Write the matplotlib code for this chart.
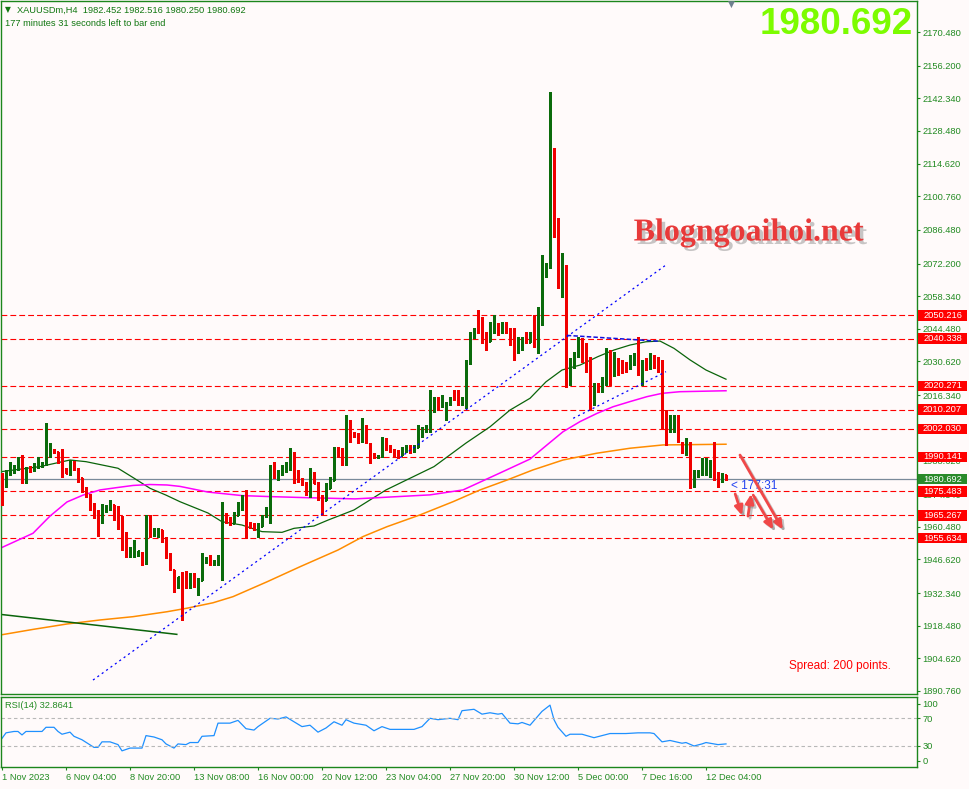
import matplotlib
matplotlib.use("Agg")
import matplotlib.pyplot as plt
import matplotlib.patheffects as pe
import matplotlib.transforms as mtransforms
from matplotlib.patches import Rectangle
import numpy as np

plt.rcParams['font.family'] = ['Liberation Sans', 'DejaVu Sans']
plt.rcParams['lines.scale_dashes'] = False

W, H = 969, 789
BG = "#FFFAFA"
FRAME = "#1C861C"
TXT = "#228B22"
UP = "#0B6B0B"
DOWN = "#F00000"

# XAUUSDm H4 bars (open, high, low, close)
opens = [1982, 1978, 1983, 1985, 1985.5, 1988, 1980, 1986, 1984.5, 1986,
         1987, 1987.5, 1992, 1993, 1992, 1988, 1985, 1983.5, 1987, 1985,
         1981, 1977, 1974, 1969, 1965, 1963, 1967, 1968, 1969.5, 1968,
         1964, 1957, 1949.5, 1950, 1949, 1949.5, 1947, 1964.5, 1957, 1957.5,
         1959, 1955, 1948, 1942, 1935, 1939, 1940, 1936, 1940, 1936,
         1938, 1946, 1947.5, 1945, 1945, 1946, 1964, 1963, 1962, 1965.5,
         1969, 1974, 1962, 1961, 1959, 1961, 1965, 1967, 1985, 1982,
         1983, 1985.5, 1987, 1991, 1984, 1980.5, 1979, 1975, 1983, 1979,
         1973, 1972, 1977, 1980.5, 1993, 1992, 1988, 2004, 2000, 1999,
         1997, 2003, 1995.5, 1991, 1990, 1990.5, 1997, 1994, 1993, 1991.5,
         1991, 1993, 1994.5, 1992.5, 1994.5, 2001, 2001.5, 2003, 2014, 2015,
         2012, 2012, 2013, 2017, 2016, 2013, 2014, 2030, 2041, 2046,
         2047, 2042, 2039.5, 2043, 2046, 2043, 2046, 2043, 2040, 2036,
         2037, 2041, 2039, 2043, 2038, 2050, 2067, 2071, 2118, 2086,
         2064, 2071, 2023, 2030, 2034, 2038, 2033, 2028, 2014, 2020,
         2018, 2022, 2033, 2025, 2031, 2030, 2030, 2028, 2031, 2033,
         2025, 2030, 2028, 2032, 2031, 2030, 2005, 2001, 2004, 2007,
         1996, 1992, 1996, 1979, 1983, 1984, 1986, 1985, 1988, 1982, 1980, 1982.452]
highs = [1983.5, 1984.6, 1988.1, 1986.7, 1990.2, 1990.9, 1986, 1986.3, 1987.4, 1990.2,
         1988, 2004.4, 1995.9, 1993.3, 1992.3, 1993.3, 1985.3, 1988.8, 1988.2, 1985.3,
         1981.3, 1977.2, 1974.3, 1970.4, 1967.6, 1970, 1969.7, 1971.8, 1969.8, 1969.3,
         1965, 1958.4, 1952, 1954.8, 1950.3, 1949.8, 1965.5, 1965.5, 1959.8, 1959.8,
         1959.1, 1956.3, 1949.2, 1942.3, 1939.3, 1941.4, 1941.8, 1940.7, 1940.7, 1938.6,
         1949.2, 1947.8, 1948.5, 1946.4, 1948.5, 1971.1, 1966.2, 1964.8, 1966.9, 1971.1,
         1974, 1976.1, 1962.6, 1961.9, 1961.9, 1965.5, 1969, 1986.7, 1988.1, 1984.6,
         1986.7, 1988.1, 1993.8, 1992.4, 1984.6, 1981, 1979.3, 1985.3, 1983.9, 1979.6,
         1974, 1978.9, 1981.7, 1994.5, 1994.5, 1993.8, 2007.9, 2005.8, 2000.8, 2000.1,
         2006.5, 2003.7, 1995.9, 1991.6, 1991, 1998.7, 1998, 1995.2, 1993.3, 1993,
         1994.5, 1995.2, 1995.2, 1995.2, 2003.7, 2003, 2003.7, 2018.5, 2015.7, 2015.7,
         2016.4, 2013.6, 2015.7, 2018.5, 2018.5, 2015.7, 2031.3, 2043.3, 2044.7, 2052.5,
         2049.7, 2043.3, 2047.5, 2050.4, 2046.8, 2047.5, 2047.5, 2044.7, 2044.7, 2041.2,
         2041.2, 2043.3, 2043.3, 2050.4, 2053.9, 2075.8, 2072.3, 2145.2, 2121.1, 2091.4,
         2076.5, 2071.6, 2032, 2034.8, 2041.1, 2040.4, 2038.3, 2032.6, 2021.3, 2021.3,
         2024.2, 2036.2, 2035.5, 2034.8, 2032, 2031.3, 2030.5, 2033.4, 2034.1, 2041.1,
         2031.3, 2032, 2034.1, 2033.4, 2032.6, 2031.2, 2010, 2007.9, 2007.9, 2007.9,
         1996.6, 1998, 1996.3, 1984.5, 1984.5, 1989.5, 1989.5, 1988.8, 1996.6, 1983.9, 1983.1, 1982.516]
lows = [1969.7, 1977.2, 1982.4, 1983.1, 1984.6, 1978.9, 1978.9, 1983.9, 1984.2, 1985.3,
        1985.8, 1986.7, 1990.2, 1991.6, 1987.7, 1981.7, 1983.1, 1982.4, 1984.5, 1979.6,
        1975.4, 1973, 1967.6, 1964, 1956.5, 1961.9, 1966.9, 1967.6, 1963.3, 1959.4,
        1950.6, 1947.8, 1947.8, 1947.8, 1948, 1944.2, 1944.6, 1956.3, 1956.5, 1956.3,
        1954.1, 1947, 1942.1, 1932.9, 1934.3, 1920.9, 1934.3, 1934.3, 1935, 1931.5,
        1937.9, 1945, 1944.2, 1944.2, 1944.2, 1937.9, 1961.9, 1961.2, 1961.9, 1965.3,
        1967.6, 1955.6, 1959.8, 1959.1, 1956.3, 1960.8, 1964.8, 1961.9, 1981, 1980.3,
        1982.4, 1983.9, 1984.6, 1978.9, 1979.6, 1978.2, 1974, 1973.2, 1978.9, 1971.8,
        1965.5, 1971.8, 1976.8, 1980.3, 1990.2, 1986.7, 1986.7, 1996.6, 1998.7, 1995.9,
        1996.6, 1995.9, 1987.4, 1989.5, 1989.8, 1990.2, 1993, 1992.4, 1990.2, 1989.5,
        1990.8, 1992.4, 1991.8, 1992.3, 1994.3, 1998.7, 2000.8, 2000.8, 2009.3, 2010,
        2011.5, 2005.8, 2012.2, 2014.3, 2012.2, 2012.2, 2010.7, 2029.5, 2040.5, 2042.6,
        2038.3, 2035.5, 2039.2, 2042.6, 2041.9, 2042.6, 2042.6, 2037.6, 2031.3, 2034.1,
        2035.5, 2038.3, 2038.8, 2036.9, 2034.1, 2046.1, 2066.5, 2070.5, 2083.6, 2061.7,
        2058.1, 2019.9, 2020.6, 2027.7, 2032.7, 2030.5, 2026.3, 2010, 2012.1, 2017.8,
        2017.5, 2020.6, 2020.6, 2024.5, 2024.9, 2025.6, 2026.3, 2027.5, 2029.1, 2024.9,
        2020.6, 2027, 2027.6, 2027.7, 2026.3, 2002.2, 1995.2, 2000.8, 2000.8, 1996.6,
        1991.6, 1990.9, 1976.8, 1977.5, 1981.7, 1982.4, 1982.4, 1981.7, 1980.3, 1977.5, 1979.6, 1980.25]
closes = [1978, 1984, 1986, 1986, 1987, 1981, 1985, 1984.5, 1986, 1987.5,
          1987.5, 1992, 1993, 1992, 1988, 1984, 1983.5, 1988, 1985, 1981,
          1977, 1974, 1969, 1965, 1963, 1968, 1969, 1969.5, 1966, 1964,
          1956, 1950, 1951, 1953, 1950, 1948, 1964, 1960, 1959.5, 1959,
          1955, 1948, 1944, 1935, 1939, 1936, 1936, 1940, 1937, 1938,
          1947, 1947, 1945, 1946, 1946.5, 1962.5, 1962.5, 1962, 1965, 1970,
          1973, 1962, 1960.5, 1959.5, 1961, 1964, 1968, 1985, 1983, 1984,
          1985.5, 1987, 1990, 1983.5, 1980.5, 1979, 1975, 1982, 1979, 1973,
          1970, 1977, 1980, 1993, 1991, 1988, 2003, 1999, 1999, 1997,
          2003, 1998, 1990, 1990, 1990.5, 1997, 1994, 1993, 1991, 1990,
          1993, 1994, 1992, 1994.5, 2001, 2002, 2003, 2015, 2015, 2012,
          2013, 2013, 2015, 2015, 2013, 2014, 2030, 2041, 2043, 2043,
          2042, 2039, 2045, 2047, 2043, 2046, 2043, 2039, 2037, 2039,
          2040, 2039, 2041, 2038, 2050, 2067, 2071, 2118, 2086, 2064,
          2071, 2026, 2031, 2034, 2038, 2033, 2028, 2014, 2019, 2018,
          2022, 2033, 2024, 2031, 2026, 2026, 2028, 2032, 2033, 2028,
          2030, 2028, 2032, 2029, 2028, 2005, 1998, 2006, 2007, 1998,
          1992, 1997, 1979, 1983, 1984, 1988, 1988, 1988, 1982, 1979, 1982.5, 1980.692]

# moving averages, read at selected bars
ma_green_idx = [-0.5, 9.5, 17, 21, 29, 33, 37, 41, 44.5, 51.5, 55, 60, 65, 70, 73, 78, 81.5, 88,
                96, 108, 116, 122, 127, 132, 136, 140, 144.5, 149, 153, 157, 161, 164.5, 168, 172, 176, 181]
ma_green_val = [1983.8, 1986.0, 1988.8, 1988.1, 1985.3, 1981.1, 1976.8, 1973.9, 1971.1, 1966.3,
                1962.6, 1961.2, 1958.4, 1958.1, 1959.8, 1960.8, 1963.3, 1967.6, 1976.1, 1986.0,
                1996.0, 2002.9, 2010.0, 2015.0, 2022.0, 2027.0, 2029.1, 2032.7, 2035.5, 2037.6,
                2039.0, 2039.3, 2036.2, 2031.3, 2027.0, 2023.1]
ma_magenta_idx = [-0.5, 7.75, 12, 16.25, 20.25, 24.5, 28.75, 32.75, 37, 41.25, 44.5, 51.5, 60, 66.5,
                  76.5, 88.25, 107, 115.25, 124.5, 132, 136.25, 140.25, 144.5, 148.75, 152.75, 157,
                  161.25, 165, 169.5, 181]
ma_magenta_val = [1951.3, 1957.7, 1965.0, 1971.0, 1973.9, 1976.1, 1977.1, 1978.0, 1978.4, 1978.2,
                  1977.6, 1975.2, 1973.7, 1973.3, 1972.8, 1972.3, 1974.0, 1976.1, 1983.3, 1989.2,
                  1995.2, 2000.8, 2005.1, 2008.6, 2011.4, 2013.6, 2015.7, 2017.1, 2017.8, 2018.2]
ma_orange_idx = [-0.5, 7.75, 16.25, 24.5, 32.75, 41.25, 46.25, 52.75, 57.75, 66.25, 74.5, 84, 90.25,
                 96.25, 104.5, 112.75, 119.5, 126.25, 132.75, 140.25, 148.75, 157, 165.25, 181]
ma_orange_val = [1914.5, 1916.9, 1919.2, 1920.9, 1922.3, 1924.4, 1925.9, 1928.2, 1930.8, 1937.1,
                 1943.5, 1950.6, 1956.3, 1960.5, 1965.5, 1971.1, 1976.1, 1980.3, 1984.6, 1988.8,
                 1991.7, 1993.8, 1995.2, 1995.5]

# RSI(14), read at selected bars
rsi_idx = [0, 1, 3, 4, 5, 6, 10, 11, 13, 14, 15, 17, 18, 20, 23, 24, 25, 27, 29, 30,
           32, 35, 36, 38, 40, 41, 43, 44, 46, 47, 49, 50, 53, 54, 57, 59, 61, 63, 64, 67,
           69, 71, 73, 75, 77, 79, 81, 83, 85, 86, 88, 91, 93, 95, 97, 100, 103, 105, 107, 109,
           112, 114, 115, 118, 120, 122, 124, 125, 127, 129, 130, 132, 135, 137, 138, 139, 141, 142, 145, 148,
           150, 152, 154, 156, 159, 162, 163, 165, 167, 170, 171, 173, 175, 176, 179, 181]
rsi_val = [41, 49, 51, 51, 46, 51, 51, 57, 57, 51, 47, 50, 44, 39, 28, 28, 36, 36, 32, 23,
           27, 27, 45, 43, 39, 33, 27, 33, 32, 35, 35, 44, 45, 63, 63, 67, 55, 53, 58, 70,
           69, 72, 65, 58, 60, 50, 56, 65, 60, 68, 63, 60, 52, 58, 54, 54, 54, 58, 70, 68,
           70, 68, 81, 83, 76, 78, 76, 77, 63, 62, 64, 60, 80, 89, 68, 57, 44, 47, 47, 42,
           45, 48, 48, 48, 49, 49, 48, 36, 38, 34, 35, 30, 33, 35, 32, 33]

# horizontal levels and labels
levels = [2050.216, 2040.338, 2020.271, 2010.207, 2002.030, 1990.141, 1975.483, 1965.267, 1955.634]
last_price = 1980.692
price_ticks = [2170.480, 2156.200, 2142.340, 2128.480, 2114.620, 2100.760, 2086.480, 2072.200,
               2058.340, 2044.480, 2030.620, 2016.340, 2002.480, 1988.620, 1974.340, 1960.480,
               1946.620, 1932.340, 1918.480, 1904.620, 1890.760]
date_ticks = [0, 16, 32, 48, 64, 80, 96, 112, 128, 144, 160, 176]
date_labels = ["1 Nov 2023", "6 Nov 04:00", "8 Nov 20:00", "13 Nov 08:00", "16 Nov 00:00",
               "20 Nov 12:00", "23 Nov 04:00", "27 Nov 20:00", "30 Nov 12:00", "5 Dec 00:00",
               "7 Dec 16:00", "12 Dec 04:00"]

# trendlines (bar index, price)
trend_main = ([22.75, 166], [1895.4, 2071.6])
trend_low = ([142.8, 166], [2006.5, 2026.3])
trend_flat = ([141.2, 164.5], [2041.7, 2039.2])
trend_old = ([-0.5, 43.7], [1923.3, 1914.8])


def frect(x0, y0, x1, y1):
    return [x0 / W, 1 - y1 / H, (x1 - x0) / W, (y1 - y0) / H]


fig = plt.figure(figsize=(W / 100, H / 100), dpi=100, facecolor=BG)

# ---- main price panel
ax = fig.add_axes(frect(1, 1, 917, 694), facecolor=BG)
ax.set_xlim(-0.25, 228.75)
ax.set_ylim(1889.48, 2183.64)
for s in ax.spines.values():
    s.set_color(FRAME)
    s.set_linewidth(1.0)
ax.set_xticks([])
ax.yaxis.tick_right()
ax.set_yticks(price_ticks)
ax.set_yticklabels([f"{v:.3f}" for v in price_ticks])
ax.tick_params(axis='y', direction='out', length=2.5, width=0.8, color=FRAME,
               labelcolor=TXT, labelsize=6.7, pad=1.5)

# level lines
ax.hlines(levels, -0.25, 228.75, colors="#FF0000", linestyles=(0, (4.2, 2.2)), lw=0.8, zorder=1)
ax.axhline(last_price, color="#7A8A9A", lw=0.9, zorder=1)

# moving averages
ax.plot(ma_green_idx, ma_green_val, color="#0A640A", lw=0.9, zorder=2)
ax.plot(ma_magenta_idx, ma_magenta_val, color="#FF00FF", lw=1.1, zorder=2)
ax.plot(ma_orange_idx, ma_orange_val, color="#FF8C00", lw=1.1, zorder=2)
ax.plot(*trend_old, color="#0A640A", lw=1.1, zorder=2)

# OHLC bars
o = np.array(opens)
c = np.array(closes)
idx = np.arange(len(c))
cols = np.where(c >= o, UP, DOWN)
ax.vlines(idx, lows, highs, colors=cols, lw=0.75, zorder=3, antialiased=False)
ax.hlines(o, idx - 0.27, idx, colors=cols, lw=0.75, zorder=3, antialiased=False)
ax.hlines(c, idx, idx + 0.27, colors=cols, lw=0.75, zorder=3, antialiased=False)

# trendlines
ax.plot(*trend_main, color="#0000FF", lw=0.9, linestyle=(0, (1.5, 2.4)), zorder=4)
ax.plot(*trend_low, color="#0000FF", lw=0.9, linestyle=(0, (1.5, 2.4)), zorder=4)
ax.plot(*trend_flat, color="#1010E0", lw=1.1, linestyle=(0, (3.2, 1.6)), zorder=4)

# price labels on the axis
blend = mtransforms.blended_transform_factory(ax.transAxes, ax.transData)
box_x0 = 1.0016
box_w = 0.0525
box_h = 4.4
for lvl in levels:
    ax.add_patch(Rectangle((box_x0, lvl - box_h / 2), box_w, box_h, transform=blend,
                           facecolor="#FF0000", edgecolor="none", clip_on=False, zorder=9))
    ax.text(box_x0 + box_w / 2, lvl, f"{lvl:.3f}", transform=blend, ha='center', va='center',
            fontsize=6.7, color="white", clip_on=False, zorder=10)
ax.add_patch(Rectangle((box_x0, last_price - box_h / 2), box_w, box_h, transform=blend,
                       facecolor="#2A8A2A", edgecolor="none", clip_on=False, zorder=9))
ax.text(box_x0 + box_w / 2, last_price, f"{last_price:.3f}", transform=blend, ha='center',
        va='center', fontsize=6.7, color="white", clip_on=False, zorder=10)

# countdown and arrows
ax.text(182.2, 1977.7, "< 177:31", fontsize=8.5, color="#2242F0", ha='left', va='center', zorder=6)
shadow = [pe.SimpleLineShadow(offset=(1.5, -1.5), shadow_color="#808080", alpha=0.45), pe.Normal()]
arrow_style = dict(arrowstyle='-|>,head_length=0.55,head_width=0.25', color="#F04848", lw=2.0,
                   shrinkA=0, shrinkB=0)
for start, end in [((184.5, 1990.9), (195.2, 1959.3)),
                   ((187.8, 1973.9), (192.8, 1959.3)),
                   ((183.3, 1974.4), (185.0, 1965.3)),
                   ((186.5, 1965.0), (187.3, 1974.4))]:
    ax.annotate("", xy=end, xytext=start, zorder=7,
                arrowprops=dict(arrow_style, path_effects=shadow))

ax.text(0.916, 0.040, "Spread: 200 points.", transform=ax.transAxes, fontsize=8.5,
        color="#FF0000", ha='center', va='center')

# ---- RSI panel
ax2 = fig.add_axes(frect(1, 697, 917, 767), facecolor=BG)
ax2.set_xlim(-0.25, 228.75)
ax2.set_ylim(-0.33, 100.76)
for s in ax2.spines.values():
    s.set_color(FRAME)
    s.set_linewidth(1.0)
ax2.plot(rsi_idx, rsi_val, color="#1E90FF", lw=0.9)
ax2.axhline(70, color="#B8B8B8", lw=0.8, linestyle=(0, (2.5, 2)))
ax2.axhline(30, color="#B8B8B8", lw=0.8, linestyle=(0, (2.5, 2)))
ax2.yaxis.tick_right()
ax2.set_yticks([91, 70, 30, 9])
ax2.set_yticklabels(["100", "70", "30", "0"])
ax2.tick_params(axis='y', direction='out', length=2.5, width=0.8, color=FRAME,
                labelcolor=TXT, labelsize=6.7, pad=1.5)
ax2.set_xticks(date_ticks)
ax2.set_xticklabels(date_labels)
ax2.tick_params(axis='x', direction='out', length=2.5, width=0.8, color=FRAME,
                labelcolor=TXT, labelsize=6.7, pad=1.5)
for lbl in ax2.get_xticklabels():
    lbl.set_horizontalalignment('left')
ax2.text(4 / 916, 1 - 8 / 70, "RSI(14) 32.8641", transform=ax2.transAxes, fontsize=6.7,
         color=TXT, ha='left', va='center')

# ---- header, big price, watermark
fig.text(5 / W, 1 - 9.5 / H, "\u25BC", fontsize=5.5, color="#117711", ha='left', va='center',
         family=['DejaVu Sans'])
fig.text(17 / W, 1 - 10 / H, "XAUUSDm,H4  1982.452 1982.516 1980.250 1980.692", fontsize=6.7,
         color="#117711", ha='left', va='center')
fig.text(5 / W, 1 - 23 / H, "177 minutes 31 seconds left to bar end", fontsize=6.7,
         color="#117711", ha='left', va='center')
fig.text(731 / W, 1 - 4.5 / H, "\u25BC", fontsize=6.5, color="#708090", ha='center', va='center',
         family=['DejaVu Sans'])
fig.text(913 / W, 1 - 25 / H, "1980.692", fontsize=26.5, fontweight='bold', color="#7CFC00",
         ha='right', va='center')
fig.text(749 / W, 1 - 233 / H, "Blogngoaihoi.net", fontsize=23, fontweight='bold',
         family=['Liberation Serif'], color="#E83A3A", ha='center', va='center',
         path_effects=[pe.withSimplePatchShadow(offset=(2.5, -2.5), shadow_rgbFace="#909090",
                                                alpha=0.5)])

fig.savefig("out.png", dpi=100, facecolor=BG)
